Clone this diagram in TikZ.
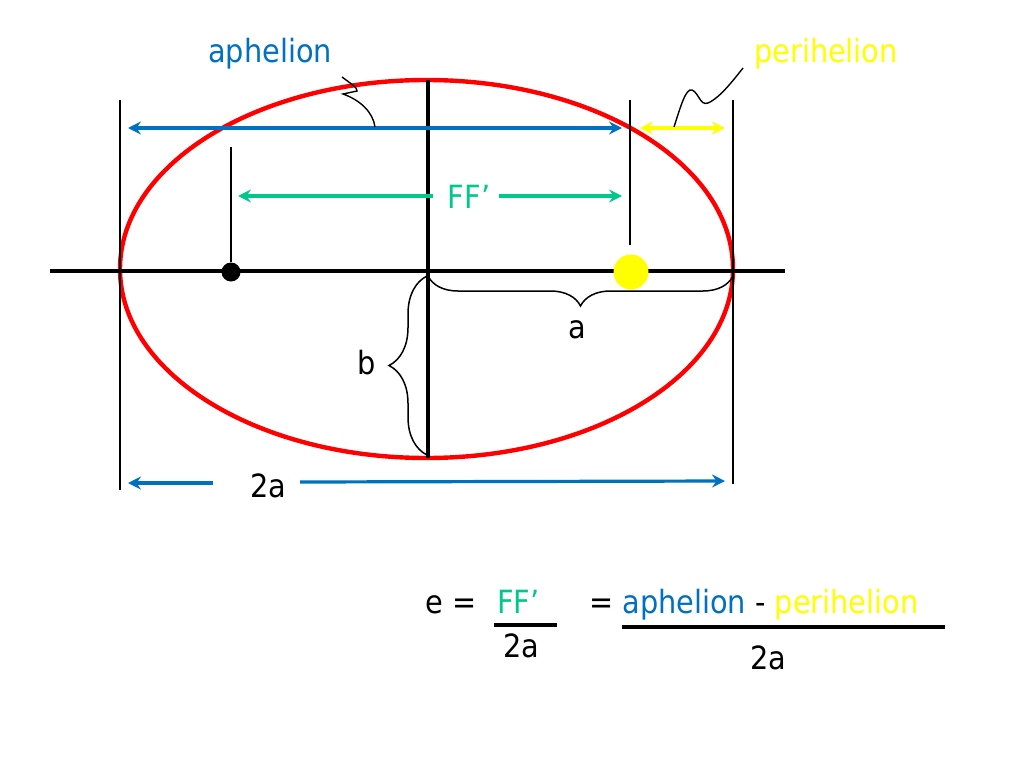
\documentclass[tikz,border=0pt]{standalone}
\usepackage{fontspec}
\setmainfont{DejaVu Sans Condensed}
\usetikzlibrary{arrows.meta,decorations.pathreplacing}
\definecolor{apblue}{RGB}{0,112,192}
\definecolor{peryellow}{RGB}{255,255,0}
\definecolor{ffgreen}{RGB}{0,200,140}
\definecolor{orbred}{RGB}{255,0,0}
\begin{document}
\begin{tikzpicture}[x=1pt,y=-1pt,
  >={Stealth[length=13,width=13,inset=4.5]},
  txt/.style={inner sep=0pt, font=\fontsize{32}{38}\selectfont, anchor=base},
  thinline/.style={black, line width=1.6},
  axisline/.style={black, line width=3.4},
  dimline/.style={line width=3.2},
  bracepath/.style={black, line width=1.5, decorate, decoration={brace, amplitude=#1}},
  dot/.style={circle, inner sep=0pt, minimum size=#1}
]
\useasboundingbox (0,0) rectangle (1024,768);

% orbit
\draw[orbred, line width=4.4] (426.5,269) ellipse [x radius=306.5, y radius=189];

% axes
\coordinate (axL) at (50,271);
\coordinate (axR) at (785,271);
\coordinate (mnT) at (428,80);
\coordinate (mnB) at (428,458);
\draw[axisline] (axL) -- (axR);
\draw[axisline] (mnT) -- (mnB);

% foci
\node[dot=19, fill=black] (F1) at (231,272) {};
\node[dot=35, fill=peryellow] (F2) at (631,272) {};

% thin guide lines
\coordinate (gLt) at (120,100); \coordinate (gLb) at (120,490);
\coordinate (gRt) at (733,100); \coordinate (gRb) at (733,484);
\coordinate (gPt) at (630,100); \coordinate (gPb) at (630,245);
\coordinate (gFt) at (231,147);
\draw[thinline] (gLt) -- (gLb);
\draw[thinline] (gRt) -- (gRb);
\draw[thinline] (gPt) -- (gPb);
\draw[thinline] (gFt) -- (F1);

% aphelion arrow
\coordinate (apL) at (128,128);
\coordinate (apR) at (622,128);
\draw[apblue, dimline, <->] (apL) -- (apR);

% perihelion arrow
\coordinate (peL) at (640,128);
\coordinate (peR) at (725,128);
\draw[peryellow, dimline, <->] (peL) -- (peR);

% FF' arrow
\node[txt, text=ffgreen] (FF) at (469,208) {FF’};
\coordinate (ffL) at (238,196);
\coordinate (ffLe) at (433,196);
\coordinate (ffRs) at (499,196);
\coordinate (ffR) at (622,196);
\draw[ffgreen, dimline, <-] (ffL) -- (ffLe);
\draw[ffgreen, dimline, ->] (ffRs) -- (ffR);

% 2a arrow
\node[txt] (twoa) at (268,497) {2a};
\coordinate (taL) at (128,483);
\coordinate (taLe) at (213,483);
\coordinate (taRs) at (300,482);
\coordinate (taR) at (725,481);
\draw[apblue, dimline, <-] (taL) -- (taLe);
\draw[apblue, dimline, ->] (taRs) -- (taR);

% braces
\coordinate (baS) at (733,276);
\coordinate (baE) at (428,276);
\draw[bracepath=30] (baS) -- (baE);
\node[txt] (alab) at (577,338) {a};
\coordinate (bbS) at (427,276);
\coordinate (bbE) at (427,455);
\draw[bracepath=38] (bbE) -- (bbS);
\node[txt] (blab) at (367,374) {b};

% labels with leaders
\node[txt, text=apblue] (aph) at (270,63) {aphelion};
\node[txt, text=peryellow] (per) at (826,63) {perihelion};
\coordinate (aphS) at (342,77);
\coordinate (aphE) at (375,127);
\draw[black, line width=1.4] (aphS) .. controls (350,83) and (358,88) .. (357,91)
  -- (343,94) .. controls (360,100) and (373,112) .. (aphE);
\coordinate (perS) at (674,127);
\coordinate (perE) at (743,68);
\draw[black, line width=1.4] (perS) .. controls (681,105) and (686,88) .. (692,90)
  .. controls (699,93) and (700,106) .. (708,103) .. controls (720,98) and (735,78) .. (perE);

% formula
\node[txt, anchor=base west] (eq) at (425,613) {e =};
\node[txt, anchor=base west, text=ffgreen] (fnum) at (497,613) {FF’};
\coordinate (f1L) at (494,625);
\coordinate (f1R) at (557,625);
\draw[black, line width=3.4] (f1L) -- (f1R);
\node[txt] (fden) at (521,657) {2a};
\node[txt, anchor=base west] (rhs) at (589,613) {= \textcolor{apblue}{aphelion} - \textcolor{peryellow}{perihelion}};
\coordinate (f2L) at (622,627);
\coordinate (f2R) at (945,627);
\draw[black, line width=3.4] (f2L) -- (f2R);
\node[txt] (rden) at (768,669) {2a};
\end{tikzpicture}
\end{document}
